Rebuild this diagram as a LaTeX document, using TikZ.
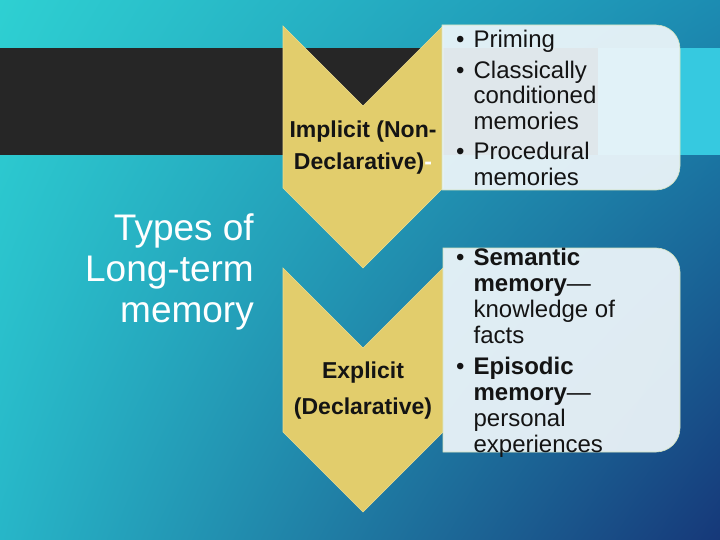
\documentclass[tikz,border=0pt]{standalone}
\usepackage{fontspec}
\setmainfont{Liberation Sans}
\usepackage{xcolor}
\usepackage{tikz}
\usetikzlibrary{positioning,shadings}
\definecolor{bgtl}{HTML}{2ED0D2}
\definecolor{bgtr}{HTML}{1C8CB2}
\definecolor{bgbl}{HTML}{27B6C8}
\definecolor{bgbr}{HTML}{163879}
\definecolor{darkband}{HTML}{262626}
\definecolor{cyanband}{HTML}{36C9E0}
\definecolor{gold}{HTML}{E2CD6C}
\definecolor{goldedge}{HTML}{EEDD8E}
\definecolor{panelfill}{HTML}{EEF6FA}
\definecolor{paneledge}{HTML}{D2E2BE}
\definecolor{ink}{HTML}{141414}
\newcommand{\bul}{\textbullet\hspace{9pt}}
\newcommand{\hang}{\phantom{\bul}}

\begin{document}
\begin{tikzpicture}[x=1pt, y=-1pt,
    chevron/.style={fill=gold, draw=goldedge, line width=0.6pt},
    panel/.style={fill=panelfill, fill opacity=0.93, draw=paneledge,
                  line width=0.6pt},
    heading/.style={text=white, align=right, inner sep=0pt,
                    font=\fontsize{37}{41}\selectfont},
    kind/.style={text=ink, align=center, inner sep=0pt,
                 font=\bfseries\fontsize{23}{32}\selectfont},
    items/.style={text=ink, align=left, inner sep=0pt,
                  font=\fontsize{24}{25.5}\selectfont}]
  \useasboundingbox (0,0) rectangle (720,540);
  \shade[upper left=bgtl, upper right=bgtr, lower left=bgbl,
         lower right=bgbr] (0,0) rectangle (720,540);
  \fill[darkband] (0,48) rectangle (598,155);
  \fill[cyanband] (598,48) rectangle (720,155);

  % chevrons
  \draw[chevron] (283,26) -- (363,106) -- (443,26) -- (443,188)
                 -- (363,268) -- (283,188) -- cycle;
  \draw[chevron] (283,268) -- (363,348) -- (443,268) -- (443,432)
                 -- (363,512) -- (283,432) -- cycle;

  % panels
  \draw[panel] (442,25) -- (656,25) arc (-90:0:24) -- (680,166)
               arc (0:90:24) -- (442,190) -- cycle;
  \draw[panel] (443,248) -- (656,248) arc (-90:0:24) -- (680,428)
               arc (0:90:24) -- (443,452) -- cycle;

  \node[heading, anchor=east] (title) at (254,272)
    {Types of\\Long-term\\memory};
  \node[kind] (implicit) at (363,148)
    {Implicit (Non-\\Declarative){\color{white}-}};
  \node[kind, font=\bfseries\fontsize{23}{36}\selectfont] (explicit)
    at (363,391) {Explicit\\(Declarative)};

  \node[items, anchor=north west] (implicitlist) at (456,30)
    {\bul Priming\\[5pt]
     \bul Classically\\
     \hang conditioned\\
     \hang memories\\[5pt]
     \bul Procedural\\
     \hang memories};
  \node[items, anchor=north west, font=\fontsize{24}{26}\selectfont]
    (explicitlist) at (456,248)
    {\bul \textbf{Semantic}\\
     \hang \textbf{memory}—\\
     \hang knowledge of\\
     \hang facts\\[5pt]
     \bul \textbf{Episodic}\\
     \hang \textbf{memory}—\\
     \hang personal\\
     \hang experiences};
\end{tikzpicture}
\end{document}
